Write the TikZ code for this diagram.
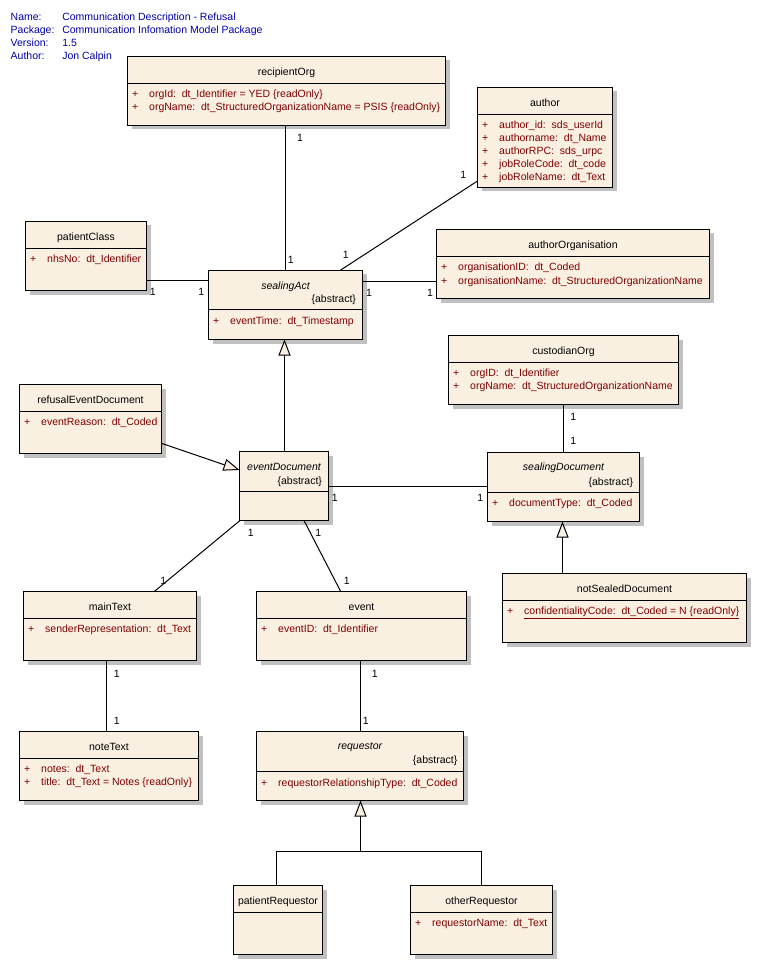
\documentclass[tikz,border=0pt]{standalone}
\usepackage{fontspec}
\setmainfont{Liberation Sans}
\usetikzlibrary{arrows.meta,shadows}
\definecolor{umlfill}{RGB}{250,240,226}
\definecolor{umlred}{RGB}{128,0,0}
\definecolor{umlblue}{RGB}{0,0,170}
\definecolor{umlshadow}{RGB}{192,192,192}
\tikzset{
  umlclass/.style={draw=black, line width=1pt, fill=umlfill, rectangle,
    inner sep=0pt, outer sep=0pt, anchor=north west,
    drop shadow={shadow xshift=4pt, shadow yshift=-4pt, fill=umlshadow, opacity=1}},
  txt/.style={inner sep=0pt, outer sep=0pt, font=\fontsize{10.5}{12}\selectfont, anchor=base},
  ttl/.style={txt},
  ittl/.style={txt, font=\fontsize{10.5}{12}\selectfont\itshape},
  abst/.style={txt, anchor=base east},
  attr/.style={txt, anchor=base west, text=umlred},
  hdr/.style={txt, anchor=base west, text=umlblue},
  mult/.style={txt},
  assoc/.style={draw=black, line width=1pt},
  gen/.style={draw=black, line width=1pt, -{Triangle[length=16pt,width=12pt,fill=umlfill]}}
}
\newcommand\ClassBox[6]{%
  \node[umlclass, minimum width={(#4-#2)*1pt}, minimum height={(#5-#3)*1pt}] (#1) at (#2,#3) {};
  \draw[line width=1pt] ([yshift={-(#6-#3)*1pt}]#1.north west) -- ([yshift={-(#6-#3)*1pt}]#1.north east);
}
\newcommand\Attr[4]{%
  \node[attr] (#1p) at (#2+4.5,#3+4) {+};
  \node[attr] (#1) at (#2+21.7,#3+4) {#4};
}
\begin{document}
\begin{tikzpicture}[x=1pt,y=-1pt]
\fill[white] (0,0) rectangle (757,965);
\useasboundingbox (0,0) rectangle (757,965);

% header
\node[hdr] (hName) at (10.7,20.3) {Name:};
\node[hdr] (vName) at (62.3,20.3) {Communication Description - Refusal};
\node[hdr] (hPkg) at (10.7,33.7) {Package:};
\node[hdr] (vPkg) at (62.3,33.7) {Communication Infomation Model Package};
\node[hdr] (hVer) at (10.7,46.7) {Version:};
\node[hdr] (vVer) at (62.3,46.7) {1.5};
\node[hdr] (hAut) at (10.7,59.7) {Author:};
\node[hdr] (vAut) at (62.3,59.7) {Jon Calpin};

% recipientOrg
\ClassBox{rOrg}{127.5}{56.5}{445.5}{125.5}{83.5}
\node[ttl] (rOrgT) at (286.5,76) {recipientOrg};
\Attr{rOrgA}{127.5}{93.3}{orgId:\ \ dt\_Identifier = YED \{readOnly\}}
\Attr{rOrgB}{127.5}{106.7}{orgName:\ \ dt\_StructuredOrganizationName = PSIS \{readOnly\}}

% author
\ClassBox{author}{477.5}{87.5}{612.5}{187.5}{114.5}
\node[ttl] (authorT) at (545,106.7) {author};
\Attr{authorA}{477.5}{124.3}{author\_id:\ \ sds\_userId}
\Attr{authorB}{477.5}{137.7}{authorname:\ \ dt\_Name}
\Attr{authorC}{477.5}{151}{authorRPC:\ \ sds\_urpc}
\Attr{authorD}{477.5}{164}{jobRoleCode:\ \ dt\_code}
\Attr{authorE}{477.5}{177}{jobRoleName:\ \ dt\_Text}

% patientClass
\ClassBox{pClass}{25.5}{221.5}{146.5}{290.5}{248.5}
\node[ttl] (pClassT) at (86,240.7) {patientClass};
\Attr{pClassA}{25.5}{259}{nhsNo:\ \ dt\_Identifier}

% sealingAct
\ClassBox{sAct}{208.5}{270.5}{362.5}{339.5}{309.5}
\node[ittl] (sActT) at (285.5,289) {sealingAct};
\node[abst] (sActAb) at (356,302.7) {\{abstract\}};
\Attr{sActA}{208.5}{320.7}{eventTime:\ \ dt\_Timestamp}

% authorOrganisation
\ClassBox{aOrg}{436.5}{229.5}{709.5}{298.5}{256.5}
\node[ttl] (aOrgT) at (573,248.7) {authorOrganisation};
\Attr{aOrgA}{436.5}{266.7}{organisationID:\ \ dt\_Coded}
\Attr{aOrgB}{436.5}{280}{organisationName:\ \ dt\_StructuredOrganizationName}

% refusalEventDocument
\ClassBox{refED}{19.5}{384.5}{161.5}{453.5}{411.5}
\node[ttl] (refEDT) at (90.5,403.7) {refusalEventDocument};
\Attr{refEDA}{19.5}{421.7}{eventReason:\ \ dt\_Coded}

% eventDocument
\ClassBox{evDoc}{239.5}{451.5}{328.5}{520.5}{491.5}
\node[ittl] (evDocT) at (284,470) {eventDocument};
\node[abst] (evDocAb) at (322,484) {\{abstract\}};

% custodianOrg
\ClassBox{cOrg}{448.5}{335.5}{678.5}{404.5}{362.5}
\node[ttl] (cOrgT) at (563.5,354.7) {custodianOrg};
\Attr{cOrgA}{448.5}{372.7}{orgID:\ \ dt\_Identifier}
\Attr{cOrgB}{448.5}{385.7}{orgName:\ \ dt\_StructuredOrganizationName}

% sealingDocument
\ClassBox{sDoc}{487.5}{452.5}{639.5}{521.5}{492.5}
\node[ittl] (sDocT) at (563.5,470.7) {sealingDocument};
\node[abst] (sDocAb) at (633,485) {\{abstract\}};
\Attr{sDocA}{487.5}{502.7}{documentType:\ \ dt\_Coded}

% notSealedDocument
\ClassBox{nsDoc}{502.5}{573.5}{746.5}{642.5}{600.5}
\node[ttl] (nsDocT) at (624.5,592.3) {notSealedDocument};
\Attr{nsDocA}{502.5}{610.7}{\underline{confidentialityCode:\ \ dt\_Coded = N \{readOnly\}}}

% mainText
\ClassBox{mText}{23.5}{591.5}{196.5}{660.5}{618.5}
\node[ttl] (mTextT) at (110,610.7) {mainText};
\Attr{mTextA}{23.5}{628.7}{senderRepresentation:\ \ dt\_Text}

% event
\ClassBox{event}{256.5}{591.5}{466.5}{660.5}{618.5}
\node[ttl] (eventT) at (361.5,610.7) {event};
\Attr{eventA}{256.5}{628.7}{eventID:\ \ dt\_Identifier}

% noteText
\ClassBox{nText}{19.5}{731.5}{198.5}{800.5}{758.5}
\node[ttl] (nTextT) at (109,750.7) {noteText};
\Attr{nTextA}{19.5}{768.7}{notes:\ \ dt\_Text}
\Attr{nTextB}{19.5}{781.7}{title:\ \ dt\_Text = Notes \{readOnly\}}

% requestor
\ClassBox{req}{256.5}{731.5}{463.5}{800.5}{771.5}
\node[ittl] (reqT) at (360,749.7) {requestor};
\node[abst] (reqAb) at (457.3,763.3) {\{abstract\}};
\Attr{reqA}{256.5}{782}{requestorRelationshipType:\ \ dt\_Coded}

% patientRequestor
\ClassBox{pReq}{233.5}{885.5}{322.5}{954.5}{912.5}
\node[ttl] (pReqT) at (278,904) {patientRequestor};

% otherRequestor
\ClassBox{oReq}{410.5}{885.5}{552.5}{954.5}{912.5}
\node[ttl] (oReqT) at (481.5,904) {otherRequestor};
\Attr{oReqA}{410.5}{922.7}{requestorName:\ \ dt\_Text}

% associations
\draw[assoc] (rOrg.south -| 285.5,0) -- (sAct.north -| 285.5,0);
\node[mult] (m1) at (300,141.3) {1};
\node[mult] (m2) at (290.7,264) {1};

\draw[assoc] (author.west |- 0,181) -- (sAct.north -| 340,0);
\node[mult] (m3) at (463.3,179) {1};
\node[mult] (m4) at (345.7,258.3) {1};

\draw[assoc] (pClass.east |- 0,280.5) -- (sAct.west |- 0,280.5);
\node[mult] (m5) at (152.7,295.3) {1};
\node[mult] (m6) at (201.3,295.3) {1};

\draw[assoc] (sAct.east |- 0,281.5) -- (aOrg.west |- 0,281.5);
\node[mult] (m7) at (369,296) {1};
\node[mult] (m8) at (430,296) {1};

\draw[assoc] (cOrg.south -| 563.5,0) -- (sDoc.north -| 563.5,0);
\node[mult] (m9) at (573.3,420.7) {1};
\node[mult] (m10) at (573.3,444) {1};

\draw[assoc] (evDoc.east |- 0,486.5) -- (sDoc.west |- 0,486.5);
\node[mult] (m11) at (334.7,501.7) {1};
\node[mult] (m12) at (480.3,501.3) {1};

\draw[assoc] (evDoc.south -| 240,0) -- (mText.north -| 154.3,0);
\node[mult] (m13) at (250.7,536.7) {1};
\node[mult] (m14) at (163.3,584) {1};

\draw[assoc] (evDoc.south -| 304,0) -- (event.north -| 340.7,0);
\node[mult] (m15) at (318.3,536.7) {1};
\node[mult] (m16) at (346.7,584.7) {1};

\draw[assoc] (mText.south -| 106.5,0) -- (nText.north -| 106.5,0);
\node[mult] (m17) at (116.7,677.3) {1};
\node[mult] (m18) at (116.7,724) {1};

\draw[assoc] (event.south -| 360.5,0) -- (req.north -| 360.5,0);
\node[mult] (m19) at (374.7,677.3) {1};
\node[mult] (m20) at (365.7,724.7) {1};

% generalizations
\draw[gen] (evDoc.north -| 284.5,0) -- (sAct.south -| 284.5,0);
\draw[gen] (refED.east |- 0,443.3) -- (evDoc.west |- 0,470);
\draw[gen] (nsDoc.north -| 562.5,0) -- (sDoc.south -| 562.5,0);
\coordinate (genJ) at (360.5,851.5);
\draw[assoc] (pReq.north -| 276.5,0) |- (genJ) -| (oReq.north -| 481.5,0);
\draw[gen] (genJ) -- (req.south -| genJ);
\end{tikzpicture}
\end{document}
